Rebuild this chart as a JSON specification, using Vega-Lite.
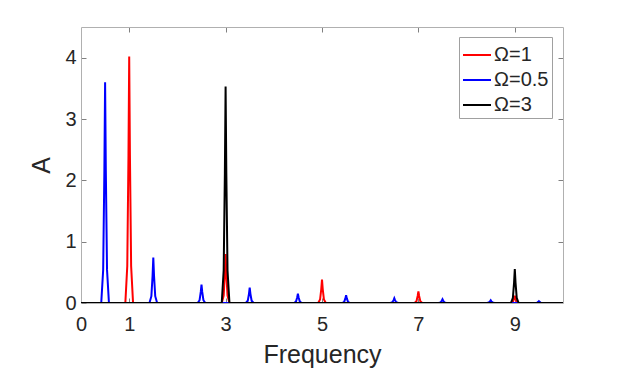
{
  "$schema": "https://vega.github.io/schema/vega-lite/v6.json",
  "width": 482,
  "height": 276,
  "autosize": {"type": "none"},
  "padding": {"left": 81, "top": 27, "right": 60, "bottom": 69},
  "background": "white",
  "config": {
    "view": {"stroke": null},
    "font": "Liberation Sans",
    "axis": {
      "grid": false,
      "domainColor": "#b0b0b0",
      "domainWidth": 1,
      "tickColor": "#808080",
      "tickSize": -5,
      "labelColor": "#262626",
      "labelFont": "Liberation Sans",
      "labelFontSize": 20,
      "labelFlush": false,
      "labelOverlap": false,
      "titleColor": "#262626",
      "titleFont": "Liberation Sans",
      "titleFontSize": 25,
      "titleFontWeight": "normal"
    },
    "legend": {
      "orient": "none",
      "legendX": 378,
      "legendY": 10,
      "fillColor": "white",
      "strokeColor": "#a0a0a0",
      "padding": 3,
      "symbolType": "stroke",
      "symbolSize": 784,
      "symbolStrokeWidth": 2,
      "labelFont": "Liberation Sans",
      "labelFontSize": 20,
      "labelColor": "#262626",
      "labelOffset": 2,
      "rowPadding": -1
    }
  },
  "data": {
    "values": [
      {"f": 0, "A": 0, "s": "Ω=1"},
      {"f": 0.92, "A": 0, "s": "Ω=1"},
      {"f": 0.96, "A": 0.603, "s": "Ω=1"},
      {"f": 0.985, "A": 2.412, "s": "Ω=1"},
      {"f": 1, "A": 4.02, "s": "Ω=1"},
      {"f": 1.015, "A": 2.412, "s": "Ω=1"},
      {"f": 1.04, "A": 0.603, "s": "Ω=1"},
      {"f": 1.08, "A": 0, "s": "Ω=1"},
      {"f": 2.92, "A": 0, "s": "Ω=1"},
      {"f": 2.96, "A": 0.12, "s": "Ω=1"},
      {"f": 2.985, "A": 0.48, "s": "Ω=1"},
      {"f": 3, "A": 0.8, "s": "Ω=1"},
      {"f": 3.015, "A": 0.48, "s": "Ω=1"},
      {"f": 3.04, "A": 0.12, "s": "Ω=1"},
      {"f": 3.08, "A": 0, "s": "Ω=1"},
      {"f": 4.92, "A": 0, "s": "Ω=1"},
      {"f": 4.96, "A": 0.057, "s": "Ω=1"},
      {"f": 4.985, "A": 0.228, "s": "Ω=1"},
      {"f": 5, "A": 0.38, "s": "Ω=1"},
      {"f": 5.015, "A": 0.228, "s": "Ω=1"},
      {"f": 5.04, "A": 0.057, "s": "Ω=1"},
      {"f": 5.08, "A": 0, "s": "Ω=1"},
      {"f": 6.92, "A": 0, "s": "Ω=1"},
      {"f": 6.96, "A": 0.029, "s": "Ω=1"},
      {"f": 6.985, "A": 0.114, "s": "Ω=1"},
      {"f": 7, "A": 0.19, "s": "Ω=1"},
      {"f": 7.015, "A": 0.114, "s": "Ω=1"},
      {"f": 7.04, "A": 0.029, "s": "Ω=1"},
      {"f": 7.08, "A": 0, "s": "Ω=1"},
      {"f": 8.92, "A": 0, "s": "Ω=1"},
      {"f": 8.96, "A": 0.018, "s": "Ω=1"},
      {"f": 8.985, "A": 0.072, "s": "Ω=1"},
      {"f": 9, "A": 0.12, "s": "Ω=1"},
      {"f": 9.015, "A": 0.072, "s": "Ω=1"},
      {"f": 9.04, "A": 0.018, "s": "Ω=1"},
      {"f": 9.08, "A": 0, "s": "Ω=1"},
      {"f": 10, "A": 0, "s": "Ω=1"},

      {"f": 0, "A": 0, "s": "Ω=0.5"},
      {"f": 0.42, "A": 0, "s": "Ω=0.5"},
      {"f": 0.46, "A": 0.54, "s": "Ω=0.5"},
      {"f": 0.485, "A": 2.16, "s": "Ω=0.5"},
      {"f": 0.5, "A": 3.6, "s": "Ω=0.5"},
      {"f": 0.515, "A": 2.16, "s": "Ω=0.5"},
      {"f": 0.54, "A": 0.54, "s": "Ω=0.5"},
      {"f": 0.58, "A": 0, "s": "Ω=0.5"},
      {"f": 1.42, "A": 0, "s": "Ω=0.5"},
      {"f": 1.46, "A": 0.111, "s": "Ω=0.5"},
      {"f": 1.485, "A": 0.444, "s": "Ω=0.5"},
      {"f": 1.5, "A": 0.74, "s": "Ω=0.5"},
      {"f": 1.515, "A": 0.444, "s": "Ω=0.5"},
      {"f": 1.54, "A": 0.111, "s": "Ω=0.5"},
      {"f": 1.58, "A": 0, "s": "Ω=0.5"},
      {"f": 2.42, "A": 0, "s": "Ω=0.5"},
      {"f": 2.46, "A": 0.045, "s": "Ω=0.5"},
      {"f": 2.485, "A": 0.18, "s": "Ω=0.5"},
      {"f": 2.5, "A": 0.3, "s": "Ω=0.5"},
      {"f": 2.515, "A": 0.18, "s": "Ω=0.5"},
      {"f": 2.54, "A": 0.045, "s": "Ω=0.5"},
      {"f": 2.58, "A": 0, "s": "Ω=0.5"},
      {"f": 3.42, "A": 0, "s": "Ω=0.5"},
      {"f": 3.46, "A": 0.0375, "s": "Ω=0.5"},
      {"f": 3.485, "A": 0.15, "s": "Ω=0.5"},
      {"f": 3.5, "A": 0.25, "s": "Ω=0.5"},
      {"f": 3.515, "A": 0.15, "s": "Ω=0.5"},
      {"f": 3.54, "A": 0.0375, "s": "Ω=0.5"},
      {"f": 3.58, "A": 0, "s": "Ω=0.5"},
      {"f": 4.42, "A": 0, "s": "Ω=0.5"},
      {"f": 4.46, "A": 0.0225, "s": "Ω=0.5"},
      {"f": 4.485, "A": 0.09, "s": "Ω=0.5"},
      {"f": 4.5, "A": 0.15, "s": "Ω=0.5"},
      {"f": 4.515, "A": 0.09, "s": "Ω=0.5"},
      {"f": 4.54, "A": 0.0225, "s": "Ω=0.5"},
      {"f": 4.58, "A": 0, "s": "Ω=0.5"},
      {"f": 5.42, "A": 0, "s": "Ω=0.5"},
      {"f": 5.46, "A": 0.019, "s": "Ω=0.5"},
      {"f": 5.485, "A": 0.075, "s": "Ω=0.5"},
      {"f": 5.5, "A": 0.125, "s": "Ω=0.5"},
      {"f": 5.515, "A": 0.075, "s": "Ω=0.5"},
      {"f": 5.54, "A": 0.019, "s": "Ω=0.5"},
      {"f": 5.58, "A": 0, "s": "Ω=0.5"},
      {"f": 6.42, "A": 0, "s": "Ω=0.5"},
      {"f": 6.46, "A": 0.012, "s": "Ω=0.5"},
      {"f": 6.485, "A": 0.046, "s": "Ω=0.5"},
      {"f": 6.5, "A": 0.077, "s": "Ω=0.5"},
      {"f": 6.515, "A": 0.046, "s": "Ω=0.5"},
      {"f": 6.54, "A": 0.012, "s": "Ω=0.5"},
      {"f": 6.58, "A": 0, "s": "Ω=0.5"},
      {"f": 7.42, "A": 0, "s": "Ω=0.5"},
      {"f": 7.46, "A": 0.009, "s": "Ω=0.5"},
      {"f": 7.485, "A": 0.036, "s": "Ω=0.5"},
      {"f": 7.5, "A": 0.06, "s": "Ω=0.5"},
      {"f": 7.515, "A": 0.036, "s": "Ω=0.5"},
      {"f": 7.54, "A": 0.009, "s": "Ω=0.5"},
      {"f": 7.58, "A": 0, "s": "Ω=0.5"},
      {"f": 8.42, "A": 0, "s": "Ω=0.5"},
      {"f": 8.46, "A": 0.007, "s": "Ω=0.5"},
      {"f": 8.485, "A": 0.027, "s": "Ω=0.5"},
      {"f": 8.5, "A": 0.045, "s": "Ω=0.5"},
      {"f": 8.515, "A": 0.027, "s": "Ω=0.5"},
      {"f": 8.54, "A": 0.007, "s": "Ω=0.5"},
      {"f": 8.58, "A": 0, "s": "Ω=0.5"},
      {"f": 9.42, "A": 0, "s": "Ω=0.5"},
      {"f": 9.46, "A": 0.0045, "s": "Ω=0.5"},
      {"f": 9.485, "A": 0.018, "s": "Ω=0.5"},
      {"f": 9.5, "A": 0.03, "s": "Ω=0.5"},
      {"f": 9.515, "A": 0.018, "s": "Ω=0.5"},
      {"f": 9.54, "A": 0.0045, "s": "Ω=0.5"},
      {"f": 9.58, "A": 0, "s": "Ω=0.5"},
      {"f": 10, "A": 0, "s": "Ω=0.5"},

      {"f": 0, "A": 0, "s": "Ω=3"},
      {"f": 2.92, "A": 0, "s": "Ω=3"},
      {"f": 2.96, "A": 0.53, "s": "Ω=3"},
      {"f": 2.985, "A": 2.118, "s": "Ω=3"},
      {"f": 3, "A": 3.53, "s": "Ω=3"},
      {"f": 3.015, "A": 2.118, "s": "Ω=3"},
      {"f": 3.04, "A": 0.53, "s": "Ω=3"},
      {"f": 3.08, "A": 0, "s": "Ω=3"},
      {"f": 8.92, "A": 0, "s": "Ω=3"},
      {"f": 8.96, "A": 0.083, "s": "Ω=3"},
      {"f": 8.985, "A": 0.333, "s": "Ω=3"},
      {"f": 9, "A": 0.555, "s": "Ω=3"},
      {"f": 9.015, "A": 0.333, "s": "Ω=3"},
      {"f": 9.04, "A": 0.083, "s": "Ω=3"},
      {"f": 9.08, "A": 0, "s": "Ω=3"},
      {"f": 10, "A": 0, "s": "Ω=3"}
    ]
  },
  "resolve": {"axis": {"x": "independent", "y": "independent"}},
  "layer": [
    {
      "transform": [{"filter": "datum.s === 'Ω=1'"}],
      "mark": {"type": "line", "strokeWidth": 2, "clip": true},
      "encoding": {
        "x": {"field": "f", "type": "quantitative", "scale": {"domain": [0, 10], "nice": false},
              "axis": {"orient": "bottom", "values": [0, 1, 3, 5, 7, 9], "title": "Frequency", "labelPadding": 16, "titlePadding": 8}},
        "y": {"field": "A", "type": "quantitative", "scale": {"domain": [0, 4.5], "nice": false, "zero": true},
              "axis": {"orient": "left", "values": [0, 1, 2, 3, 4], "title": "A", "labelPadding": 10, "titlePadding": 10}},
        "color": {"field": "s", "type": "nominal", "title": null,
                  "scale": {"domain": ["Ω=1", "Ω=0.5", "Ω=3"], "range": ["#ff0000", "#0000ff", "#000000"]}},
        "order": {"field": "f", "type": "quantitative"}
      }
    },
    {
      "transform": [{"filter": "datum.s === 'Ω=0.5'"}],
      "mark": {"type": "line", "strokeWidth": 2, "clip": true},
      "encoding": {
        "x": {"field": "f", "type": "quantitative",
              "axis": {"orient": "top", "values": [1, 3, 5, 7, 9], "labels": false, "title": null}},
        "y": {"field": "A", "type": "quantitative",
              "axis": {"orient": "right", "values": [1, 2, 3, 4], "labels": false, "title": null}},
        "color": {"field": "s", "type": "nominal"},
        "order": {"field": "f", "type": "quantitative"}
      }
    },
    {
      "transform": [{"filter": "datum.s === 'Ω=3'"}],
      "mark": {"type": "line", "strokeWidth": 2, "clip": true},
      "encoding": {
        "x": {"field": "f", "type": "quantitative", "axis": null},
        "y": {"field": "A", "type": "quantitative", "axis": null},
        "color": {"field": "s", "type": "nominal"},
        "order": {"field": "f", "type": "quantitative"}
      }
    }
  ]
}
